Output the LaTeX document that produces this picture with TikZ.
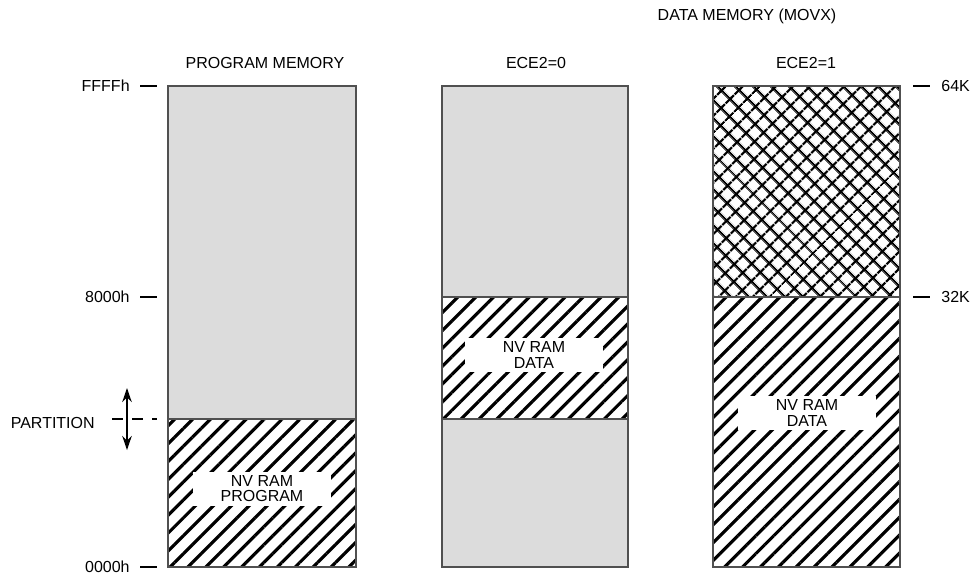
\documentclass[tikz,border=0pt]{standalone}
\usepackage{fontspec}
\setmainfont{Liberation Sans}
\usepackage{tikz}
\usetikzlibrary{arrows.meta,patterns.meta}
\definecolor{memgray}{HTML}{DCDCDC}
\definecolor{framegray}{HTML}{505050}
\tikzset{
  >={Stealth[length=2.8mm,width=1.9mm]},
  % minnesblock
  blank/.style={fill=memgray},
  hatch/.style={pattern={Lines[angle=45,distance=7.2pt,line width=1.8pt]}},
  xhatch/.style={pattern={Hatch[angle=45,distance=7.4pt,line width=1.4pt]}},
  frame/.style={draw=framegray,line width=0.7pt},
  % texter
  lbl/.style={font=\fontsize{9.1}{11}\selectfont,inner sep=0pt},
  nvbox/.style={lbl,font=\fontsize{9.1}{8.6}\selectfont,fill=white,align=center,
                minimum width=2.76cm,minimum height=0.68cm},
  tk/.style={draw=black,line width=0.6pt},
}
\begin{document}
\begin{tikzpicture}[x=0.02cm,y=-0.02cm]
\useasboundingbox (0,0) rectangle (970,576);
  % rubriker
  \node[lbl] (movx) at (747,16) {DATA MEMORY (MOVX)};
  \node[lbl] (pm) at (265,63) {PROGRAM MEMORY};
  \node[lbl] (ece0) at (536,63) {ECE2=0};
  \node[lbl] (ece1) at (806,63) {ECE2=1};
  % programminne
  \fill[blank] (168,86) rectangle (356,419);
  \fill[hatch] (168,419) rectangle (356,567);
  \draw[frame] (168,86) rectangle (356,567) (168,419) -- (356,419);
  \node[nvbox] (nvprog) at (262,489) {NV RAM\\PROGRAM};
  % dataminne, ECE2=0
  \fill[blank] (442,86) rectangle (628,567);
  \fill[white] (442,297) rectangle (628,419);
  \fill[hatch] (442,297) rectangle (628,419);
  \draw[frame] (442,86) rectangle (628,567) (442,297) -- (628,297) (442,419) -- (628,419);
  \node[nvbox] (nvdata0) at (534,355) {NV RAM\\DATA};
  % dataminne, ECE2=1
  \fill[xhatch] (713,86) rectangle (900,297);
  \fill[hatch] (713,297) rectangle (900,567);
  \draw[frame] (713,86) rectangle (900,567) (713,297) -- (900,297);
  \node[nvbox] (nvdata1) at (807,413) {NV RAM\\DATA};
  % adresser
  \node[lbl,anchor=east] (ffff) at (130,86) {FFFFh};
  \node[lbl,anchor=east] (h8000) at (130,297) {8000h};
  \node[lbl,anchor=east] (part) at (95,423) {PARTITION};
  \node[lbl,anchor=east] (h0000) at (130,567) {0000h};
  \draw[tk] (140,86) -- (157,86);
  \draw[tk] (140,297) -- (157,297);
  \draw[tk] (140,567) -- (157,567);
  \draw[tk,dash pattern=on 6pt off 5.5pt] (112,419) -- (157,419);
  \coordinate (pup) at (127,388);
  \coordinate (pdn) at (127,450);
  \draw[tk,line width=0.8pt,<->] (pup) -- (pdn);
  \node[lbl,anchor=west] (k64) at (941,86) {64K};
  \node[lbl,anchor=west] (k32) at (941,297) {32K};
  \draw[tk] (913,86) -- (930,86);
  \draw[tk] (913,297) -- (930,297);
\end{tikzpicture}
\end{document}
